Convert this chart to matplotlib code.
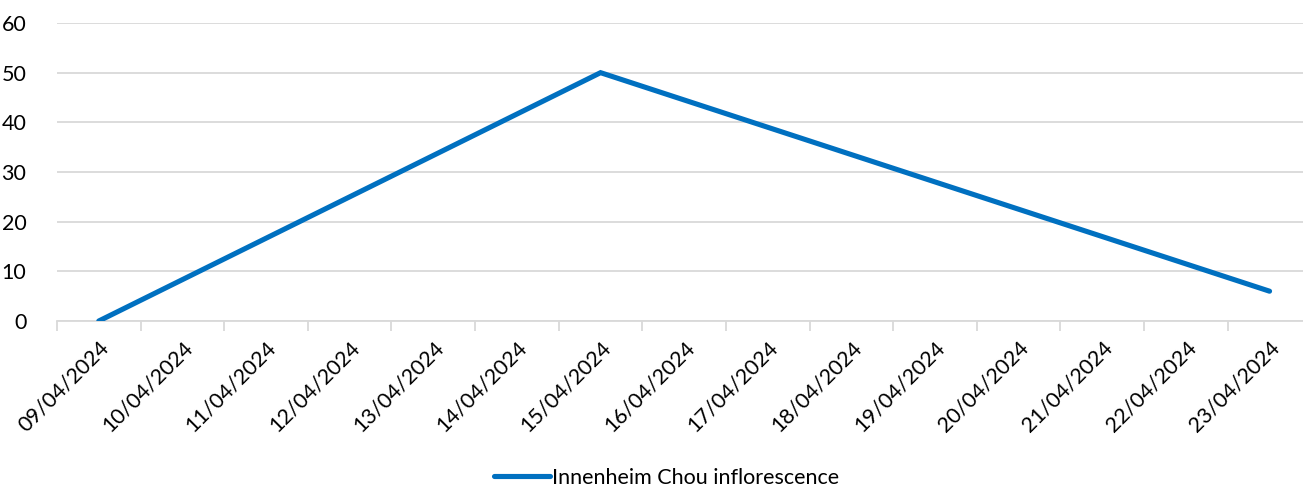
import numpy as np
import matplotlib.pyplot as plt

plt.rcParams['font.family'] = ['Lato', 'DejaVu Sans']
plt.rcParams['font.size'] = 15.5

# Category axis (one entry per day) and the recorded values
dates = ['09/04/2024', '10/04/2024', '11/04/2024', '12/04/2024', '13/04/2024',
         '14/04/2024', '15/04/2024', '16/04/2024', '17/04/2024', '18/04/2024',
         '19/04/2024', '20/04/2024', '21/04/2024', '22/04/2024', '23/04/2024']
obs_dates = ['09/04/2024', '15/04/2024', '23/04/2024']
obs_values = [0, 50, 6]
series_name = 'Innenheim Chou inflorescence'

x_obs = [dates.index(d) for d in obs_dates]

fig = plt.figure(figsize=(13.03, 4.87), dpi=100)
ax = fig.add_axes([57 / 1303, 166 / 487, 1246 / 1303, 298 / 487])

ax.plot(x_obs, obs_values, color='#0070C0', lw=3.7, solid_capstyle='round',
        solid_joinstyle='miter', label=series_name, zorder=3)

ax.set_ylim(0, 60)
ax.set_yticks(np.arange(0, 61, 10))
ax.set_xlim(-0.5, 14.4)
ax.grid(axis='y', color='#D9D9D9', lw=1.3)
ax.set_axisbelow(True)

# category labels at the centres, tick marks on the boundaries
ax.set_xticks(np.arange(len(dates)))
ax.set_xticklabels(dates, rotation=45, ha='right', rotation_mode='anchor')
ax.tick_params(axis='x', which='major', length=0, pad=12)
ax.set_xticks(np.arange(len(dates)) - 0.5, minor=True)
ax.tick_params(axis='x', which='minor', length=7, color='#D9D9D9', width=1.3)
ax.tick_params(axis='y', length=0, pad=22)

for s in ['top', 'right', 'left']:
    ax.spines[s].set_visible(False)
ax.spines['bottom'].set_color('#D9D9D9')
ax.spines['bottom'].set_linewidth(1.3)

fig.legend(loc='center', bbox_to_anchor=(667 / 1303, 1 - 478 / 487), frameon=False,
           handlelength=2.6, handletextpad=0.1, fontsize=15.5)

fig.savefig('out.png', dpi=100)
